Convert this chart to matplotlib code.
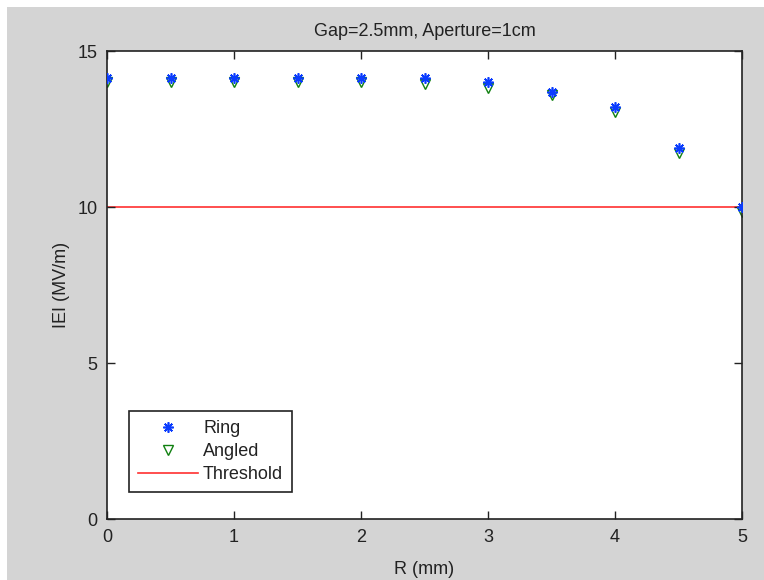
import matplotlib
matplotlib.use("Agg")
import matplotlib.pyplot as plt
from matplotlib.patches import Rectangle

plt.rcParams['font.family'] = ['Liberation Sans', 'DejaVu Sans']

R = [0, 0.5, 1, 1.5, 2, 2.5, 3, 3.5, 4, 4.5, 5]
ring = [14.12, 14.12, 14.12, 14.12, 14.12, 14.12, 14.02, 13.7, 13.2, 11.9, 10.0]
angled = [14.02, 14.02, 14.02, 14.02, 14.02, 13.95, 13.8, 13.6, 13.05, 11.72, 9.85]
threshold_x = [0, 5]
threshold_y = [10, 10]
xticks = [0, 1, 2, 3, 4, 5]
yticks = [0, 5, 10, 15]

FS = 13
W, H = 764, 580
fig = plt.figure(figsize=(W / 100, H / 100), dpi=100)
fig.patch.set_facecolor('#d4d4d4')
# white strips at top and left edge
fig.patches.append(Rectangle((0, 0), 7 / W, 1, transform=fig.transFigure, facecolor='white', edgecolor='none', zorder=-1))
fig.patches.append(Rectangle((0, 1 - 7 / H), 1, 7 / H, transform=fig.transFigure, facecolor='white', edgecolor='none', zorder=-1))

left, right, top, bottom = 107, 742, 51, 519
ax = fig.add_axes([left / W, 1 - bottom / H, (right - left) / W, (bottom - top) / H])
ax.set_facecolor('white')

ax.plot(R, ring, linestyle='none', marker=(8, 2, 0), markersize=7.5, color='#0a3cff',
        markeredgewidth=1.2, label='Ring', zorder=3)
ax.plot(R, angled, linestyle='none', marker='v', markersize=7, markerfacecolor='none',
        markeredgecolor='#108010', markeredgewidth=1.0, label='Angled', zorder=2)
ax.plot(threshold_x, threshold_y, color='#ff3030', linewidth=1.2, label='Threshold', zorder=1)

ax.set_xlim(0, 5)
ax.set_ylim(0, 15)
ax.set_xticks(xticks)
ax.set_yticks(yticks)
ax.tick_params(direction='in', top=True, right=True, length=6, width=1.0,
               labelsize=FS, colors='#222222', pad=7)
for s in ax.spines.values():
    s.set_linewidth(1.2)
    s.set_color('#222222')

ax.set_xlabel('R (mm)', fontsize=FS, labelpad=11, color='#222222')
ax.set_ylabel('IEI (MV/m)', fontsize=FS, labelpad=5, color='#222222')
ax.set_title('Gap=2.5mm, Aperture=1cm', fontsize=FS, pad=11, color='#222222')

leg = ax.legend(loc='lower left', bbox_to_anchor=((129 - left) / (right - left), (bottom - 492) / (bottom - top)),
                fontsize=FS, frameon=True, fancybox=False, edgecolor='#222222',
                borderpad=0.5, handlelength=3.3, handletextpad=0.3, labelspacing=0.32,
                borderaxespad=0)
leg.get_frame().set_linewidth(1.2)
leg.get_frame().set_alpha(None)
for t in leg.get_texts():
    t.set_color('#222222')

fig.savefig('out.png', dpi=100, facecolor=fig.get_facecolor())
